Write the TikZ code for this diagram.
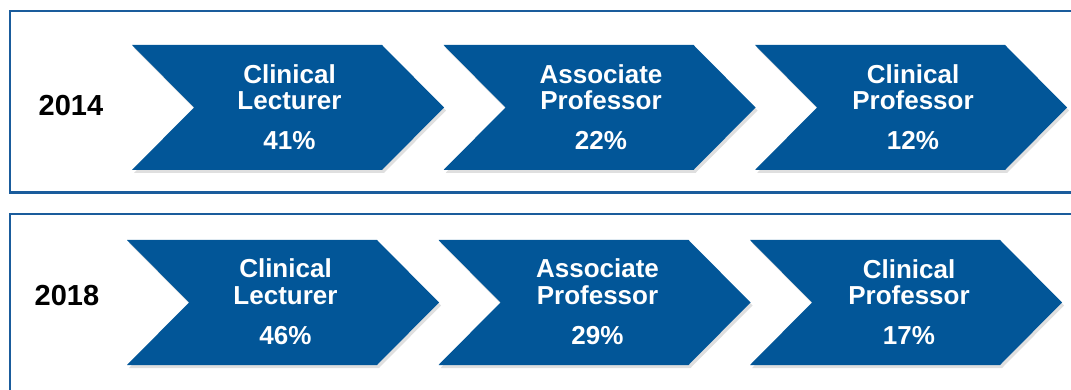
\documentclass[tikz,border=0pt]{standalone}
\usepackage{fontspec}
\setmainfont{Liberation Sans}
\usetikzlibrary{shadows}
\definecolor{chevblue}{RGB}{2,86,152}
\definecolor{frameblue}{RGB}{26,92,156}
\tikzset{
  chev/.style={fill=chevblue, drop shadow={shadow xshift=2pt, shadow yshift=-3pt, opacity=0.25}},
  stage/.style={text=white, font=\bfseries\fontsize{26}{26.6}\selectfont, align=center},
  year/.style={font=\bfseries\fontsize{29}{30}\selectfont},
  panel/.style={draw=frameblue, line width=2.1pt}
}
\begin{document}
\begin{tikzpicture}[x=1pt,y=-1pt]
		\useasboundingbox (0,0) rectangle (1071,390);
		%Frames of the two rows
		\draw[panel] (10,11) rectangle (1090,192.5);
		\draw[panel] (10,214) rectangle (1090,400);
		%Row of 2014
		\node[year] (y14) at (71,106) {2014};
		\fill[chev] (132,45) -- (382,45) -- (444,107.5) -- (382,170) -- (132,170) -- (194,107.5) -- cycle;
		\fill[chev] (443.5,45) -- (693.5,45) -- (755.5,107.5) -- (693.5,170) -- (443.5,170) -- (505.5,107.5) -- cycle;
		\fill[chev] (755,45) -- (1005,45) -- (1067,107.5) -- (1005,170) -- (755,170) -- (817,107.5) -- cycle;
		\node[stage] (lect14) at (289.5,107) {Clinical\\Lecturer\\[13.4pt]41\%};
		\node[stage] (assoc14) at (601,107) {Associate\\Professor\\[13.4pt]22\%};
		\node[stage] (prof14) at (913,107) {Clinical\\Professor\\[13.4pt]12\%};
		%Row of 2018
		\node[year] (y18) at (67,296) {2018};
		\fill[chev] (127,240) -- (377,240) -- (439,302.5) -- (377,365) -- (127,365) -- (189,302.5) -- cycle;
		\fill[chev] (438.5,240) -- (688.5,240) -- (750.5,302.5) -- (688.5,365) -- (438.5,365) -- (500.5,302.5) -- cycle;
		\fill[chev] (750,240) -- (1000,240) -- (1062,302.5) -- (1000,365) -- (750,365) -- (812,302.5) -- cycle;
		\node[stage] (lect18) at (285.5,302) {Clinical\\Lecturer\\[13.4pt]46\%};
		\node[stage] (assoc18) at (597.5,302) {Associate\\Professor\\[13.4pt]29\%};
		\node[stage] (prof18) at (909,302) {Clinical\\Professor\\[13.4pt]17\%};
\end{tikzpicture}
\end{document}
